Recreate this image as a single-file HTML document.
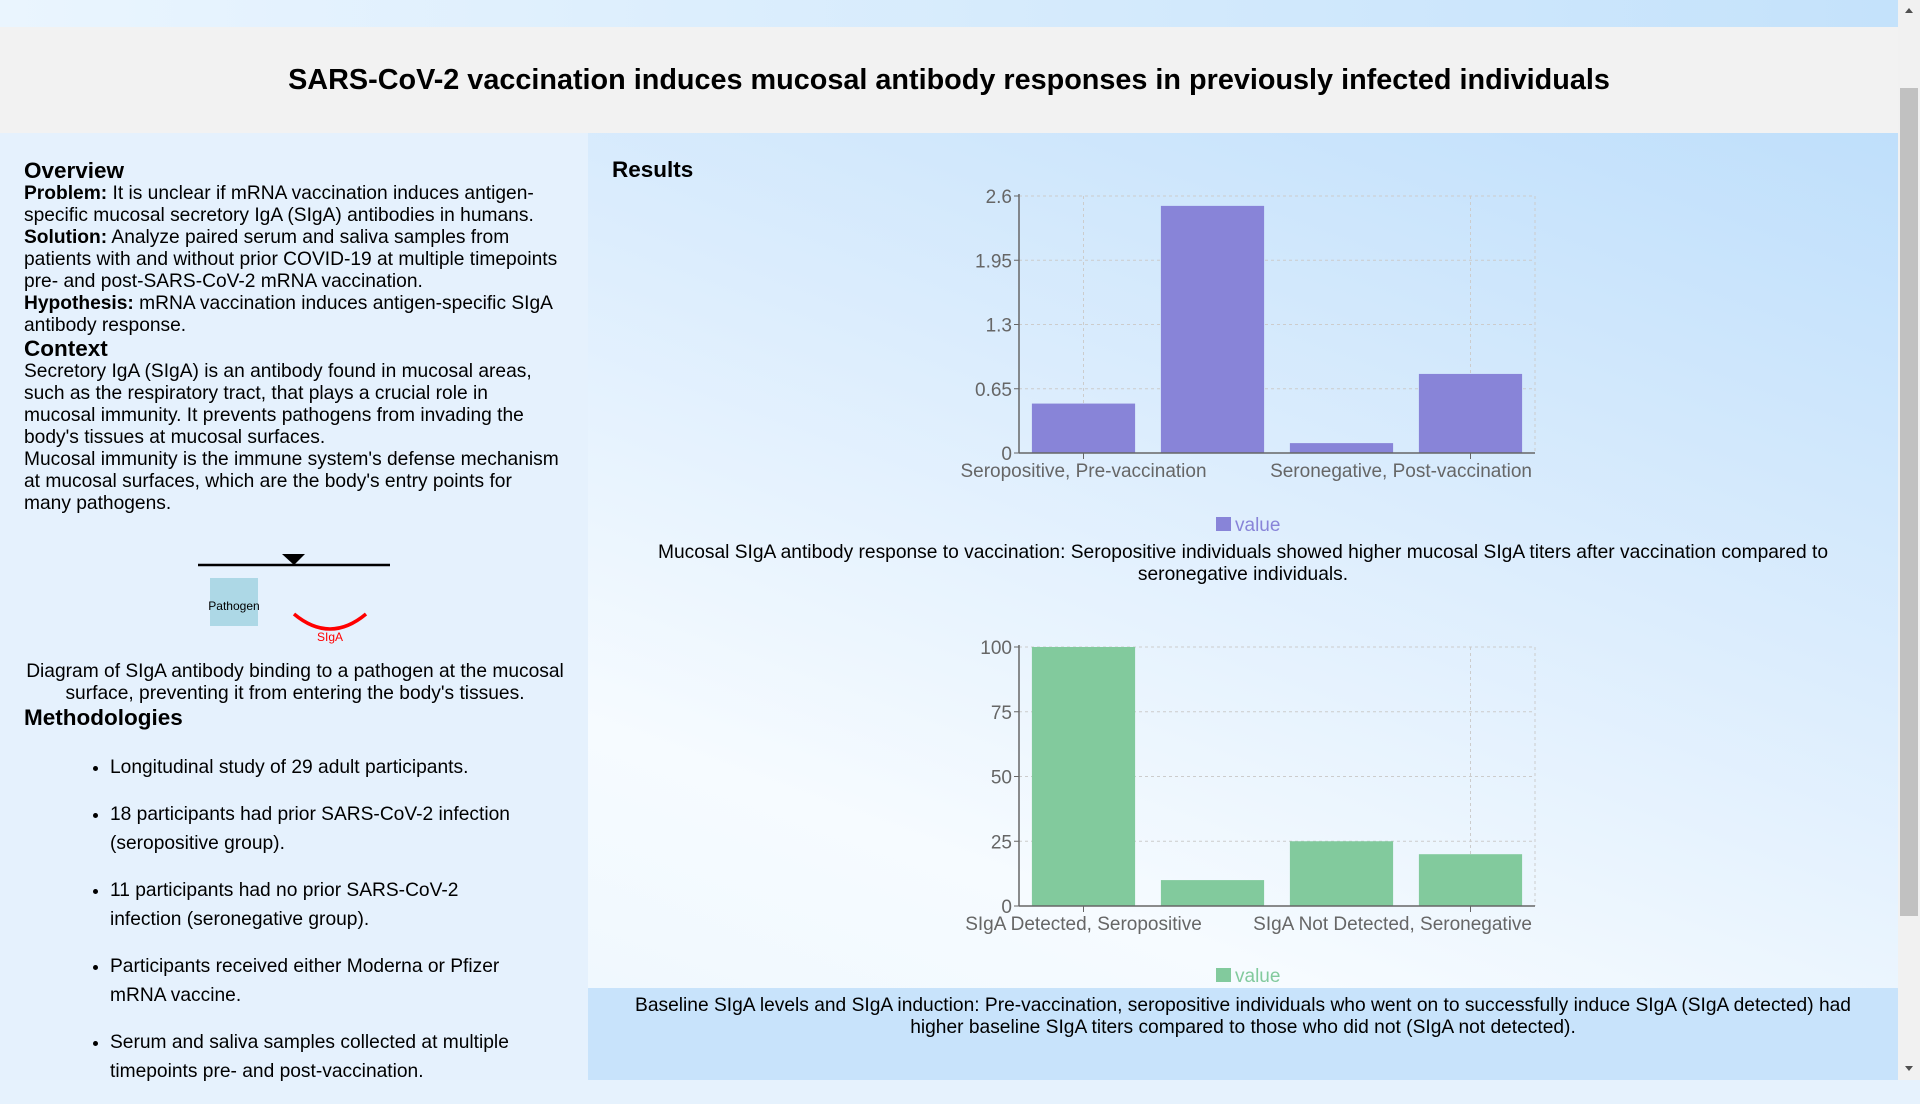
<!DOCTYPE html>
<html><head><meta charset="utf-8"><style>
*{margin:0;padding:0;box-sizing:border-box}
body{width:1920px;height:1080px;overflow:hidden;font-family:"Liberation Sans",Arial,sans-serif;color:#000;position:relative;background:#e6f2fd}
#topband{position:absolute;left:0;top:0;width:1898px;height:27px;background:linear-gradient(90deg,#eaf5fe,#c4e2fb)}
#header{position:absolute;left:0;top:27px;width:1898px;height:106px;background:#f2f2f2}
#header h1{font-size:28.8px;font-weight:bold;text-align:center;line-height:106px}
#left{position:absolute;left:0;top:133px;width:588px;height:947px;background:#e5f1fd;font-size:19.2px;line-height:22px;padding:26px 0 0 24px}
#left h2{font-size:22.5px;font-weight:bold;line-height:24px}
#left p{width:538px}
#right{position:absolute;left:588px;top:133px;width:1310px;height:947px;background:linear-gradient(200deg,#bfdffb 0%,#dcedfd 40%,#f6fbff 75%,#eef7fe 100%)}
#capbox{position:absolute;left:588px;top:988px;width:1310px;height:92px;background:#c8e3fb}
.cap{position:absolute;font-size:19.2px;line-height:22px;text-align:center}
#scroll{position:absolute;left:1898px;top:0;width:22px;height:1080px;background:#f1f1f1}
#thumb{position:absolute;left:1900px;top:88px;width:18px;height:828px;background:#c1c1c1}
ul{position:absolute;left:90px;top:753px;width:432px;font-size:19.2px;line-height:29px;padding-left:20px}
li{margin-bottom:18px}
</style></head><body>
<div id="topband"></div>
<div id="header"><h1>SARS-CoV-2 vaccination induces mucosal antibody responses in previously infected individuals</h1></div>
<div id="left">
<h2>Overview</h2>
<p><b>Problem:</b> It is unclear if mRNA vaccination induces antigen-specific mucosal secretory IgA (SIgA) antibodies in humans.<br><b>Solution:</b> Analyze paired serum and saliva samples from patients with and without prior COVID-19 at multiple timepoints pre- and post-SARS-CoV-2 mRNA vaccination.<br><b>Hypothesis:</b> mRNA vaccination induces antigen-specific SIgA antibody response.</p>
<h2>Context</h2>
<p>Secretory IgA (SIgA) is an antibody found in mucosal areas, such as the respiratory tract, that plays a crucial role in mucosal immunity. It prevents pathogens from invading the body's tissues at mucosal surfaces.<br>Mucosal immunity is the immune system's defense mechanism at mucosal surfaces, which are the body's entry points for many pathogens.</p>
</div>
<svg style="position:absolute;left:0;top:540px" width="588" height="110">
<line x1="198" y1="25" x2="390" y2="25" stroke="#000" stroke-width="2.5"/>
<polygon points="282,14 305,14 294,25" fill="#000"/>
<rect x="210" y="38" width="48" height="48" fill="#add8e6"/>
<text x="234" y="70" font-size="12" text-anchor="middle" font-family="Liberation Sans">Pathogen</text>
<path d="M294,74 Q330,104 366,74" fill="none" stroke="red" stroke-width="3.5"/>
<text x="330" y="101" font-size="12" fill="red" text-anchor="middle" font-family="Liberation Sans">SIgA</text>
</svg>
<div class="cap" style="left:20px;top:661px;width:550px">Diagram of SIgA antibody binding to a pathogen at the mucosal surface, preventing it from entering the body's tissues.</div>
<div style="position:absolute;left:24px;top:705px;font-size:22.5px;font-weight:bold">Methodologies</div>
<ul>
<li>Longitudinal study of 29 adult participants.</li>
<li>18 participants had prior SARS-CoV-2 infection (seropositive group).</li>
<li>11 participants had no prior SARS-CoV-2 infection (seronegative group).</li>
<li>Participants received either Moderna or Pfizer mRNA vaccine.</li>
<li>Serum and saliva samples collected at multiple timepoints pre- and post-vaccination.</li>
</ul>
<div id="right"></div>
<div id="capbox"></div>
<div style="position:absolute;left:612px;top:157px;font-size:22.5px;font-weight:bold">Results</div>
<svg id="c1" style="position:absolute;left:588px;top:133px" width="1310" height="420"></svg>
<div class="cap" style="left:633px;top:542px;width:1220px">Mucosal SIgA antibody response to vaccination: Seropositive individuals showed higher mucosal SIgA titers after vaccination compared to seronegative individuals.</div>
<svg id="c2" style="position:absolute;left:588px;top:600px" width="1310" height="388"></svg>
<div class="cap" style="left:613px;top:995px;width:1260px">Baseline SIgA levels and SIgA induction: Pre-vaccination, seropositive individuals who went on to successfully induce SIgA (SIgA detected) had higher baseline SIgA titers compared to those who did not (SIgA not detected).</div>
<div id="scroll"></div>
<div id="thumb"></div>
<svg style="position:absolute;left:1898px;top:0" width="22" height="1080"><polygon points="7,13 15,13 11,8" fill="#505050"/><polygon points="7,1066 15,1066 11,1071" fill="#505050"/></svg>
<script>
const cats1=["Seropositive, Pre-vaccination","Seropositive, Post-vaccination","Seronegative, Pre-vaccination","Seronegative, Post-vaccination"];
const vals1=[0.5,2.5,0.1,0.8];
const ticks1=[0,0.65,1.3,1.95,2.6];
const cats2=["SIgA Detected, Seropositive","SIgA Detected, Seronegative","SIgA Not Detected, Seropositive","SIgA Not Detected, Seronegative"];
const vals2=[100,10,25,20];
const ticks2=[0,25,50,75,100];
const NS="http://www.w3.org/2000/svg";
function mk(p,t,a){const e=document.createElementNS(NS,t);for(const k in a)e.setAttribute(k,a[k]);p.appendChild(e);return e;}
function draw(svg,cats,vals,ticks,color,x0,x1,yTop,yBot,legY,legX,pre){
  const max=ticks[ticks.length-1];
  const y=v=>yBot-(v/max)*(yBot-yTop);
  const band=(x1-x0)/cats.length;
  const cx=i=>x0+band*(i+0.5);
  ticks.forEach(t=>{
    if(t>0){const g=mk(svg,'line',{x1:x0,x2:x1,y1:y(t),y2:y(t),stroke:'#ccc','stroke-dasharray':'3,3'});
    
    }
    const tl=mk(svg,'text',{x:x0-7,y:y(t)+7,'text-anchor':'end','font-size':19,fill:'#666','font-family':'Liberation Sans'});
    tl.textContent=t;
    
    
    mk(svg,'line',{x1:x0-5,x2:x0,y1:y(t),y2:y(t),stroke:'#666'});
  });
  [0,cats.length-1].forEach(i=>{mk(svg,'line',{x1:cx(i),x2:cx(i),y1:yTop,y2:yBot,stroke:'#ccc','stroke-dasharray':'3,3'});});
  mk(svg,'line',{x1:x1,x2:x1,y1:yTop,y2:yBot,stroke:'#ccc','stroke-dasharray':'3,3'});
  vals.forEach((v,i)=>{
    const r=mk(svg,'rect',{x:cx(i)-band*0.4,y:y(v),width:band*0.8,height:yBot-y(v),fill:color});
    
    
  });
  mk(svg,'line',{x1:x0,x2:x0,y1:yTop-2,y2:yBot,stroke:'#666','stroke-width':1.5});
  mk(svg,'line',{x1:x0,x2:x1,y1:yBot,y2:yBot,stroke:'#666','stroke-width':1.5});
  [0,cats.length-1].forEach(i=>{
    mk(svg,'line',{x1:cx(i),x2:cx(i),y1:yBot,y2:yBot+6,stroke:'#666'});
    const last=i===cats.length-1;
    const tx=mk(svg,'text',{x:last?x1-3:cx(i),y:yBot+24,'text-anchor':last?'end':'middle','font-size':19,fill:'#666','font-family':'Liberation Sans'});
    tx.textContent=cats[i];
    
    
  });
  const lg=mk(svg,'rect',{x:legX-27,y:legY-7,width:15,height:14,fill:color});
  
  
  const lt=mk(svg,'text',{x:legX-8,y:legY+7,'font-size':19,fill:color,'font-family':'Liberation Sans'});
  lt.textContent='value';
  
  
}
draw(document.getElementById('c1'),cats1,vals1,ticks1,'#8884d8',431,947,63,320,391,655,'response');
draw(document.getElementById('c2'),cats2,vals2,ticks2,'#82ca9d',431,947,47,306,375,655,'baseline');
</script>
</body></html>
